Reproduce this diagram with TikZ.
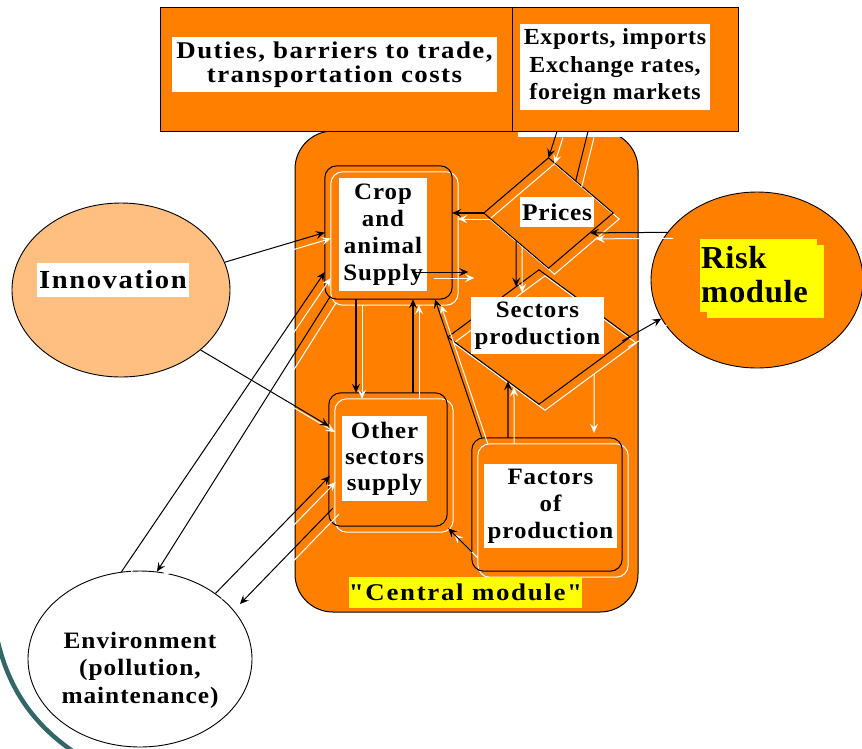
\documentclass[tikz,border=0pt]{standalone}
\usepackage{fontspec}
\setmainfont{Liberation Serif}
\usetikzlibrary{arrows.meta,shapes.geometric,calc}

\definecolor{modorange}{RGB}{255,128,0}
\definecolor{innofill}{RGB}{255,191,128}
\definecolor{hiyellow}{RGB}{255,255,0}
\definecolor{slideteal}{RGB}{51,102,102}

% size, baseline skip, letter spacing, horizontal stretch
\newcommand{\lblfont}[4]{\fontsize{#1}{#2}\selectfont\bfseries\addfontfeature{LetterSpace=#3,FakeStretch=#4}}

\begin{document}
\begin{tikzpicture}[x=1pt,y=-1pt,
  panel/.style={rectangle, draw=black, line width=1pt, fill=modorange, inner sep=0pt},
  unitbox/.style={rectangle, rounded corners=12pt, inner sep=0pt},
  unitdiamond/.style={diamond, inner sep=0pt},
  edge/.style={draw=black, line width=1pt},
  glow/.style={draw=white, line width=1pt},
  tag/.style={rectangle, fill=white, inner sep=0pt, align=center, text=black},
  flow/.style={draw=black, line width=1pt, -{Stealth[length=9pt,width=8pt,inset=3.5pt]}},
  wflow/.style={draw=white, line width=1pt, -{Stealth[length=9pt,width=8pt,inset=3.5pt]}},
  oval/.style={ellipse, draw=black, line width=0.9pt, inner sep=0pt}
]
\useasboundingbox (0,0) rectangle (862,748);

% slide ornament
\draw[slideteal, line width=4.5pt] (-3,638) .. controls (8,688) and (33,724) .. (74,752);

% central module panel
\node[panel, rounded corners=38pt, minimum width=343pt, minimum height=481pt] (central) at (466.5,371.5) {};

% top boxes
\node[rectangle, fill=white, inner sep=0pt, minimum width=226pt, minimum height=124pt] (exportsglow) at (631,75) {};
\node[panel, minimum width=352pt, minimum height=124pt] (duties) at (336,69) {};
\node[panel, minimum width=226pt, minimum height=124pt] (exports) at (625,69) {};

% outer modules
\node[oval, fill=innofill, minimum width=218pt, minimum height=174pt] (innov) at (121,290) {};
\node[oval, fill=modorange, minimum width=212pt, minimum height=176pt] (risk) at (757,280) {};
\node[oval, fill=white, minimum width=224pt, minimum height=176pt] (env) at (140,659) {};

% inner units (placed, outlines drawn below)
\node[unitbox, minimum width=127pt, minimum height=133pt] (crop) at (388.5,232.5) {};
\node[unitbox, minimum width=118pt, minimum height=133pt] (other) at (388,459.5) {};
\node[unitbox, minimum width=150pt, minimum height=133pt] (factors) at (547,504.5) {};
\node[unitdiamond, minimum width=129pt, minimum height=110pt] (prices) at (548.5,213) {};
\node[unitdiamond, minimum width=182pt, minimum height=134pt] (sectors) at (539,337) {};

% white offset outlines
\begin{scope}[transform canvas={shift={(6,6)}}]
  \draw[glow, rounded corners=12pt] (crop.north west) rectangle (crop.south east);
  \draw[glow, rounded corners=12pt] (other.north west) rectangle (other.south east);
  \draw[glow, rounded corners=12pt] (factors.north west) rectangle (factors.south east);
  \draw[glow] (prices.north) -- (prices.east) -- (prices.south) -- (prices.west) -- cycle;
  \draw[glow] (sectors.north) -- (sectors.east) -- (sectors.south) -- (sectors.west) -- cycle;
\end{scope}

% black outlines
\draw[edge, rounded corners=12pt] (crop.north west) rectangle (crop.south east);
\draw[edge, rounded corners=12pt] (other.north west) rectangle (other.south east);
\draw[edge, rounded corners=12pt] (factors.north west) rectangle (factors.south east);
\draw[edge] (prices.north) -- (prices.east) -- (prices.south) -- (prices.west) -- cycle;
\draw[edge] (sectors.north) -- (sectors.east) -- (sectors.south) -- (sectors.west) -- cycle;

% white offset copies of the flows
\begin{scope}[transform canvas={shift={(6,6)}}]
  \draw[wflow] ([xshift=-68pt]exports.south) -- (prices.north);
  \draw[glow] ($(prices.north)!0.42!(prices.east)$) -- ([xshift=-37pt]exports.south);
  \draw[wflow] (prices.west) -- (crop.east |- prices.west);
  \draw[wflow] (risk.152) -- ($(prices.east)!0.36!(prices.south)$);
  \draw[wflow] ($(sectors.east)+(-8,4)$) -- (risk.202);
  \draw[wflow] ($(prices.west)!0.5!(prices.south)$) -- ($(sectors.west)!0.75!(sectors.north)$);
  \draw[wflow] ($(crop.center)+(39.5,39.5)$) -- ($(crop.east)+(16,39.5)$);
  \draw[wflow] ([xshift=-32.5pt]crop.south) -- ([xshift=-32pt]other.north);
  \draw[wflow] ([xshift=25pt]other.north) -- ([xshift=24.5pt]crop.south);
  \draw[wflow] ([xshift=10pt]factors.north west) -- ([xshift=46.5pt]crop.south);
  \draw[wflow] ([xshift=-39pt]factors.north) -- ($(sectors.west)!0.66!(sectors.south)$);
  \draw[wflow] ($(sectors.south)!0.54!(sectors.east)$) -- ([xshift=41pt,yshift=11pt]factors.north);
  \draw[wflow] ($(factors.west)+(0,47.5)$) -- ($(other.south east)+(1,2)$);
  \draw[wflow] (innov.15) -- (crop.west);
  \draw[wflow] (innov.323) -- ($(other.west)+(0,-33.5)$);
  \draw[wflow] (env.102) -- ($(crop.west)+(0,39.5)$);
  \draw[wflow] ($(crop.south west)+(5,-2)$) -- (env.79);
  \draw[wflow] (env.41) -- ($(other.west)+(1,16.5)$);
  \draw[wflow] ($(other.south west)+(4,-18)$) -- ($(env.29)+(8,-4)$);
\end{scope}

% labels
\node[tag, minimum width=325pt, minimum height=55pt, font=\lblfont{24}{24.5}{6}{1.12}] (dutiestag) at (334.5,64.5)
  {Duties, barriers to trade,\\transportation costs};
\node[tag, minimum width=190pt, minimum height=86pt, font=\lblfont{23}{27.5}{3}{1.04}] (exportstag) at (615,67)
  {Exports, imports\\Exchange rates,\\foreign markets};
\node[tag, minimum width=152pt, minimum height=34pt, font=\lblfont{26}{30}{6}{1.1}] (innovtag) at (113,280) {Innovation};
\node[tag, minimum width=74pt, minimum height=30pt, font=\lblfont{24}{28}{3}{1.06}] (pricestag) at (557,212) {Prices};
\node[tag, minimum width=88pt, minimum height=113pt, font=\lblfont{23.5}{27}{4}{1.06}] (croptag) at (383,234.5)
  {Crop\\and\\animal\\Supply};
\node[tag, minimum width=133pt, minimum height=57pt, font=\lblfont{23.5}{26.5}{4}{1.06}] (sectorstag) at (537.5,325.5)
  {Sectors\\production};
\node[tag, minimum width=85pt, minimum height=85pt, font=\lblfont{23.5}{26}{4}{1.06}] (othertag) at (384.5,458.5)
  {Other\\sectors\\supply};
\node[tag, minimum width=133pt, minimum height=84pt, font=\lblfont{23.5}{27}{4}{1.06}] (factorstag) at (550.5,506)
  {Factors\\of\\production};
\node[tag, fill=hiyellow, minimum width=233pt, minimum height=31pt,
      font={\lblfont{24}{28}{7}{1.12}\addfontfeature{Ligatures=TeXOff}}] (centraltag) at (465.5,592.5)
  {"Central module"};
\node[rectangle, fill=hiyellow, inner sep=0pt, minimum width=117pt, minimum height=73pt] (riskshade) at (765.5,281.5) {};
\node[rectangle, fill=hiyellow, inner sep=0pt, minimum width=117pt, minimum height=73pt] (riskpatch) at (758.5,275.5) {};
\node[anchor=west, align=left, inner sep=0pt, font=\lblfont{32}{34}{2}{1.02}] (risktag) at (701,275) {Risk\\module};
\node[align=center, inner sep=0pt, font=\lblfont{23.5}{27.5}{4}{1.08}] (envtag) at (140,670)
  {Environment\\(pollution,\\maintenance)};

% flows
\draw[flow] ([xshift=-68pt]exports.south) -- (prices.north);
\draw[edge] ($(prices.north)!0.42!(prices.east)$) -- ([xshift=-37pt]exports.south);
\draw[flow, line width=1.5pt] (prices.west) -- (crop.east |- prices.west);
\draw[flow] (risk.152) -- ($(prices.east)!0.36!(prices.south)$);
\draw[flow] ($(sectors.east)+(-8,4)$) -- (risk.202);
\draw[flow] ($(prices.west)!0.5!(prices.south)$) -- ($(sectors.west)!0.75!(sectors.north)$);
\draw[flow] ($(crop.center)+(23.5,39.5)$) -- ($(crop.east)+(16,39.5)$);
\draw[flow, line width=1.5pt] ([xshift=-32.5pt]crop.south) -- ([xshift=-32pt]other.north);
\draw[flow, line width=1.3pt] ([xshift=25pt]other.north) -- ([xshift=24.5pt]crop.south);
\draw[flow] ([xshift=10pt]factors.north west) -- ([xshift=46.5pt]crop.south);
\draw[flow, line width=1.3pt] ([xshift=-39pt]factors.north) -- ($(sectors.west)!0.66!(sectors.south)$);
\draw[flow] ($(factors.west)+(0,47.5)$) -- ($(other.south east)+(1,2)$);
\draw[flow] (innov.15) -- (crop.west);
\draw[flow] (innov.323) -- ($(other.west)+(0,-33.5)$);
\draw[flow] (env.102) -- ($(crop.west)+(0,39.5)$);
\draw[flow] ($(crop.south west)+(5,-2)$) -- (env.79);
\draw[flow] (env.41) -- ($(other.west)+(1,16.5)$);
\draw[flow] ($(other.south west)+(4,-18)$) -- ($(env.29)+(8,-4)$);
\end{tikzpicture}
\end{document}
